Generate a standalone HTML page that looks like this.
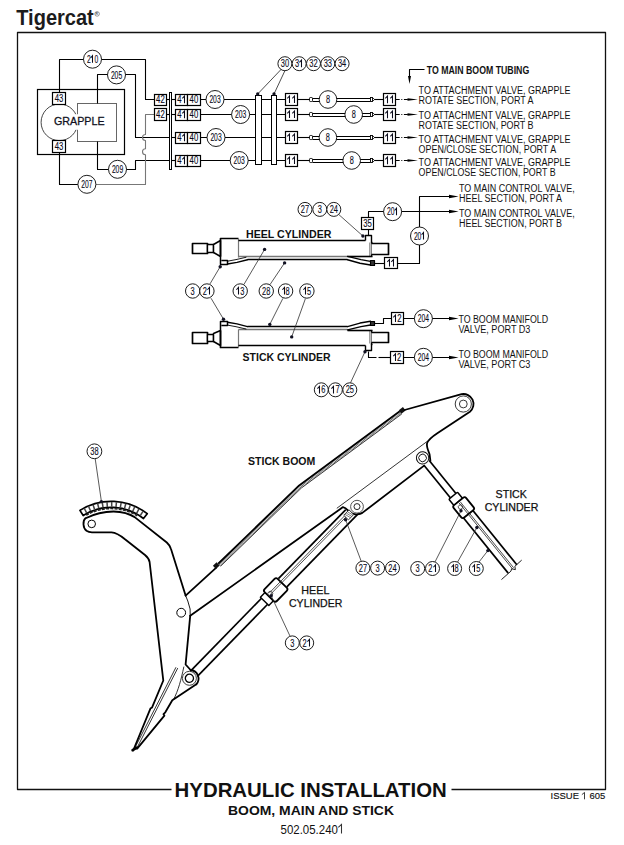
<!DOCTYPE html>
<html><head><meta charset="utf-8"><style>
html,body{margin:0;padding:0;background:#fff;}
svg{display:block;}
text{font-family:"Liberation Sans", sans-serif;}
</style></head><body>
<svg width="624" height="845" viewBox="0 0 624 845">
<rect x="0" y="0" width="624" height="845" fill="#fff"/>
<text x="16.2" y="25.1" font-size="21.5" font-weight="bold" textLength="77.6" lengthAdjust="spacingAndGlyphs" text-anchor="start" fill="#1c1c1c" >Tigercat</text>
<circle cx="97.1" cy="13.9" r="2.3" fill="none" stroke="#555" stroke-width="0.6"/>
<text x="95.6" y="15.2" font-size="3.4" font-weight="bold" text-anchor="start" fill="#555" >R</text>
<polyline points="171.5,789.5 17.5,789.5 17.5,32.5 605.5,32.5 605.5,789.5 451.5,789.5" stroke="#111" stroke-width="1.3" fill="none" stroke-linejoin="round" />
<text x="174.6" y="797.2" font-size="21" font-weight="bold" textLength="272.2" lengthAdjust="spacingAndGlyphs" text-anchor="start" fill="#111" >HYDRAULIC INSTALLATION</text>
<text x="228" y="814.7" font-size="13" font-weight="bold" textLength="166" lengthAdjust="spacingAndGlyphs" text-anchor="start" fill="#111" >BOOM, MAIN AND STICK</text>
<text x="280.5" y="833.5" font-size="13" textLength="57.42" lengthAdjust="spacingAndGlyphs" text-anchor="start" fill="#111" >502.05.240</text>
<path d="M 341.50,833.50 L 341.50,824.40 L 338.31,827.31" fill="none" stroke="#333" stroke-width="1.05" stroke-linejoin="miter" stroke-linecap="butt"/>
<text x="550.6" y="799.3" font-size="9.8" textLength="28.4" lengthAdjust="spacingAndGlyphs" text-anchor="start" fill="#111" stroke="#111" stroke-width="0.15">ISSUE</text>
<path d="M 584.50,799.30 L 584.50,792.44 L 581.87,794.64" fill="none" stroke="#333" stroke-width="0.95" stroke-linejoin="miter" stroke-linecap="butt"/>
<text x="589.5" y="799.3" font-size="9.8" textLength="15.8" lengthAdjust="spacingAndGlyphs" text-anchor="start" fill="#111" stroke="#111" stroke-width="0.15">605</text>
<rect x="37.5" y="89.5" width="87.0" height="65.0" stroke="#000" stroke-width="1.2" fill="none" rx="0" />
<circle cx="59.4" cy="122.3" r="18.3" stroke="#333" stroke-width="0.9" fill="none"/>
<rect x="77.5" y="103.5" width="39.0" height="38.0" stroke="#666" stroke-width="1.0" fill="none" rx="0" />
<rect x="70" y="114.2" width="9" height="15.6" fill="#fff"/>
<text x="54" y="125.0" font-size="11.5" textLength="50.6" lengthAdjust="spacingAndGlyphs" text-anchor="start" fill="#111122" stroke="#111122" stroke-width="0.3">GRAPPLE</text>
<rect x="52.5" y="92.5" width="13.0" height="12.0" stroke="#000" stroke-width="1.2" fill="#fff" rx="0" />
<text x="54.7" y="102.02" font-size="10.2" textLength="4.3" lengthAdjust="spacingAndGlyphs" text-anchor="start" fill="#0a0a1a" stroke="#0a0a1a" stroke-width="0.12">4</text>
<text x="59.0" y="102.02" font-size="10.2" textLength="4.3" lengthAdjust="spacingAndGlyphs" text-anchor="start" fill="#0a0a1a" stroke="#0a0a1a" stroke-width="0.12">3</text>
<rect x="52.5" y="140.5" width="13.0" height="12.0" stroke="#000" stroke-width="1.2" fill="#fff" rx="0" />
<text x="54.7" y="150.12" font-size="10.2" textLength="4.3" lengthAdjust="spacingAndGlyphs" text-anchor="start" fill="#0a0a1a" stroke="#0a0a1a" stroke-width="0.12">4</text>
<text x="59.0" y="150.12" font-size="10.2" textLength="4.3" lengthAdjust="spacingAndGlyphs" text-anchor="start" fill="#0a0a1a" stroke="#0a0a1a" stroke-width="0.12">3</text>
<polyline points="59.5,92.5 59.5,59.5 145.5,59.5 145.5,99.5 154.5,99.5" stroke="#000" stroke-width="1.1" fill="none" stroke-linejoin="round" />
<circle cx="92.5" cy="59.2" r="9" stroke="#111" stroke-width="0.95" fill="#fff"/>
<text x="86.88" y="62.82" font-size="10.2" textLength="3.75" lengthAdjust="spacingAndGlyphs" text-anchor="start" fill="#0a0a1a" stroke="#0a0a1a" stroke-width="0.12">2</text>
<path d="M 92.50,62.82 L 92.50,55.68 L 90.62,57.97" fill="none" stroke="#0a0a1a" stroke-width="1.05" stroke-linejoin="miter" stroke-linecap="butt"/>
<text x="94.38" y="62.82" font-size="10.2" textLength="3.75" lengthAdjust="spacingAndGlyphs" text-anchor="start" fill="#0a0a1a" stroke="#0a0a1a" stroke-width="0.12">0</text>
<polyline points="97.5,103.5 97.5,74.5 135.5,74.5 135.5,137.5 169.5,137.5" stroke="#000" stroke-width="1.1" fill="none" stroke-linejoin="round" />
<circle cx="116.5" cy="74.9" r="9" stroke="#111" stroke-width="0.95" fill="#fff"/>
<text x="110.88" y="78.52" font-size="10.2" textLength="3.75" lengthAdjust="spacingAndGlyphs" text-anchor="start" fill="#0a0a1a" stroke="#0a0a1a" stroke-width="0.12">2</text>
<text x="114.62" y="78.52" font-size="10.2" textLength="3.75" lengthAdjust="spacingAndGlyphs" text-anchor="start" fill="#0a0a1a" stroke="#0a0a1a" stroke-width="0.12">0</text>
<text x="118.38" y="78.52" font-size="10.2" textLength="3.75" lengthAdjust="spacingAndGlyphs" text-anchor="start" fill="#0a0a1a" stroke="#0a0a1a" stroke-width="0.12">5</text>
<polyline points="97.5,141.5 97.5,169.5 135.5,169.5 135.5,160.5 169.5,160.5" stroke="#000" stroke-width="1.1" fill="none" stroke-linejoin="round" />
<circle cx="117.5" cy="169.3" r="9" stroke="#111" stroke-width="0.95" fill="#fff"/>
<text x="111.88" y="172.92" font-size="10.2" textLength="3.75" lengthAdjust="spacingAndGlyphs" text-anchor="start" fill="#0a0a1a" stroke="#0a0a1a" stroke-width="0.12">2</text>
<text x="115.62" y="172.92" font-size="10.2" textLength="3.75" lengthAdjust="spacingAndGlyphs" text-anchor="start" fill="#0a0a1a" stroke="#0a0a1a" stroke-width="0.12">0</text>
<text x="119.38" y="172.92" font-size="10.2" textLength="3.75" lengthAdjust="spacingAndGlyphs" text-anchor="start" fill="#0a0a1a" stroke="#0a0a1a" stroke-width="0.12">9</text>
<polyline points="59.5,152.5 59.5,184.5 80.5,184.5" stroke="#000" stroke-width="1.1" fill="none" stroke-linejoin="round" />
<path d="M 95,184.5 L 145.5,184.5 L 145.5,154.7 A 3,3 0 0 1 145.5,148.7 L 145.5,140.5 A 3,3 0 0 1 145.5,134.5 L 145.5,114.5 L 154.5,114.5" stroke="#777" stroke-width="1.1" fill="none" stroke-linejoin="round" stroke-linecap="round" />
<circle cx="86.9" cy="184.3" r="9" stroke="#111" stroke-width="0.95" fill="#fff"/>
<text x="81.28" y="187.92" font-size="10.2" textLength="3.75" lengthAdjust="spacingAndGlyphs" text-anchor="start" fill="#0a0a1a" stroke="#0a0a1a" stroke-width="0.12">2</text>
<text x="85.03" y="187.92" font-size="10.2" textLength="3.75" lengthAdjust="spacingAndGlyphs" text-anchor="start" fill="#0a0a1a" stroke="#0a0a1a" stroke-width="0.12">0</text>
<text x="88.78" y="187.92" font-size="10.2" textLength="3.75" lengthAdjust="spacingAndGlyphs" text-anchor="start" fill="#0a0a1a" stroke="#0a0a1a" stroke-width="0.12">7</text>
<rect x="154.5" y="94.5" width="12.0" height="11.0" stroke="#000" stroke-width="1.2" fill="#fff" rx="0" />
<text x="156.1" y="103.37" font-size="10.2" textLength="4.3" lengthAdjust="spacingAndGlyphs" text-anchor="start" fill="#0a0a1a" stroke="#0a0a1a" stroke-width="0.12">4</text>
<text x="160.4" y="103.37" font-size="10.2" textLength="4.3" lengthAdjust="spacingAndGlyphs" text-anchor="start" fill="#0a0a1a" stroke="#0a0a1a" stroke-width="0.12">2</text>
<rect x="154.5" y="108.5" width="12.0" height="12.0" stroke="#000" stroke-width="1.2" fill="#fff" rx="0" />
<text x="156.1" y="118.07" font-size="10.2" textLength="4.3" lengthAdjust="spacingAndGlyphs" text-anchor="start" fill="#0a0a1a" stroke="#0a0a1a" stroke-width="0.12">4</text>
<text x="160.4" y="118.07" font-size="10.2" textLength="4.3" lengthAdjust="spacingAndGlyphs" text-anchor="start" fill="#0a0a1a" stroke="#0a0a1a" stroke-width="0.12">2</text>
<rect x="169.5" y="92.5" width="2.0" height="77.0" stroke="#000" stroke-width="1.0" fill="#fff" rx="0" />
<line x1="166.4" y1="99.5" x2="169.1" y2="99.5" stroke="#000" stroke-width="1.1" />
<line x1="171.7" y1="99.5" x2="175.5" y2="99.5" stroke="#000" stroke-width="1.1" />
<line x1="166.4" y1="114.5" x2="169.1" y2="114.5" stroke="#000" stroke-width="1.1" />
<line x1="171.7" y1="114.5" x2="175.5" y2="114.5" stroke="#000" stroke-width="1.1" />
<line x1="171.7" y1="137.5" x2="175.5" y2="137.5" stroke="#000" stroke-width="1.1" />
<line x1="171.7" y1="160.5" x2="175.5" y2="160.5" stroke="#000" stroke-width="1.1" />
<rect x="175.5" y="94.5" width="12.0" height="11.0" stroke="#000" stroke-width="1.2" fill="#fff" rx="0" />
<text x="177.2" y="103.17" font-size="10.2" textLength="4.3" lengthAdjust="spacingAndGlyphs" text-anchor="start" fill="#0a0a1a" stroke="#0a0a1a" stroke-width="0.12">4</text>
<path d="M 184.50,103.17 L 184.50,96.03 L 182.35,98.32" fill="none" stroke="#0a0a1a" stroke-width="1.05" stroke-linejoin="miter" stroke-linecap="butt"/>
<rect x="187.5" y="94.5" width="13.0" height="11.0" stroke="#000" stroke-width="1.2" fill="#fff" rx="0" />
<text x="189.6" y="103.17" font-size="10.2" textLength="4.3" lengthAdjust="spacingAndGlyphs" text-anchor="start" fill="#0a0a1a" stroke="#0a0a1a" stroke-width="0.12">4</text>
<text x="193.9" y="103.17" font-size="10.2" textLength="4.3" lengthAdjust="spacingAndGlyphs" text-anchor="start" fill="#0a0a1a" stroke="#0a0a1a" stroke-width="0.12">0</text>
<rect x="175.5" y="109.5" width="12.0" height="11.0" stroke="#000" stroke-width="1.2" fill="#fff" rx="0" />
<text x="177.2" y="118.17" font-size="10.2" textLength="4.3" lengthAdjust="spacingAndGlyphs" text-anchor="start" fill="#0a0a1a" stroke="#0a0a1a" stroke-width="0.12">4</text>
<path d="M 184.50,118.17 L 184.50,111.03 L 182.35,113.32" fill="none" stroke="#0a0a1a" stroke-width="1.05" stroke-linejoin="miter" stroke-linecap="butt"/>
<rect x="187.5" y="109.5" width="13.0" height="11.0" stroke="#000" stroke-width="1.2" fill="#fff" rx="0" />
<text x="189.6" y="118.17" font-size="10.2" textLength="4.3" lengthAdjust="spacingAndGlyphs" text-anchor="start" fill="#0a0a1a" stroke="#0a0a1a" stroke-width="0.12">4</text>
<text x="193.9" y="118.17" font-size="10.2" textLength="4.3" lengthAdjust="spacingAndGlyphs" text-anchor="start" fill="#0a0a1a" stroke="#0a0a1a" stroke-width="0.12">0</text>
<rect x="175.5" y="132.5" width="12.0" height="11.0" stroke="#000" stroke-width="1.2" fill="#fff" rx="0" />
<text x="177.2" y="141.17" font-size="10.2" textLength="4.3" lengthAdjust="spacingAndGlyphs" text-anchor="start" fill="#0a0a1a" stroke="#0a0a1a" stroke-width="0.12">4</text>
<path d="M 184.50,141.17 L 184.50,134.03 L 182.35,136.32" fill="none" stroke="#0a0a1a" stroke-width="1.05" stroke-linejoin="miter" stroke-linecap="butt"/>
<rect x="187.5" y="132.5" width="13.0" height="11.0" stroke="#000" stroke-width="1.2" fill="#fff" rx="0" />
<text x="189.6" y="141.17" font-size="10.2" textLength="4.3" lengthAdjust="spacingAndGlyphs" text-anchor="start" fill="#0a0a1a" stroke="#0a0a1a" stroke-width="0.12">4</text>
<text x="193.9" y="141.17" font-size="10.2" textLength="4.3" lengthAdjust="spacingAndGlyphs" text-anchor="start" fill="#0a0a1a" stroke="#0a0a1a" stroke-width="0.12">0</text>
<rect x="175.5" y="155.5" width="12.0" height="11.0" stroke="#000" stroke-width="1.2" fill="#fff" rx="0" />
<text x="177.2" y="164.17" font-size="10.2" textLength="4.3" lengthAdjust="spacingAndGlyphs" text-anchor="start" fill="#0a0a1a" stroke="#0a0a1a" stroke-width="0.12">4</text>
<path d="M 184.50,164.17 L 184.50,157.03 L 182.35,159.32" fill="none" stroke="#0a0a1a" stroke-width="1.05" stroke-linejoin="miter" stroke-linecap="butt"/>
<rect x="187.5" y="155.5" width="13.0" height="11.0" stroke="#000" stroke-width="1.2" fill="#fff" rx="0" />
<text x="189.6" y="164.17" font-size="10.2" textLength="4.3" lengthAdjust="spacingAndGlyphs" text-anchor="start" fill="#0a0a1a" stroke="#0a0a1a" stroke-width="0.12">4</text>
<text x="193.9" y="164.17" font-size="10.2" textLength="4.3" lengthAdjust="spacingAndGlyphs" text-anchor="start" fill="#0a0a1a" stroke="#0a0a1a" stroke-width="0.12">0</text>
<line x1="200.3" y1="99.5" x2="285.6" y2="99.5" stroke="#000" stroke-width="1.1" />
<line x1="200.3" y1="114.5" x2="285.6" y2="114.5" stroke="#000" stroke-width="1.1" />
<line x1="200.3" y1="137.5" x2="285.6" y2="137.5" stroke="#000" stroke-width="1.1" />
<line x1="200.3" y1="160.5" x2="285.6" y2="160.5" stroke="#000" stroke-width="1.1" />
<circle cx="215" cy="99.5" r="9" stroke="#111" stroke-width="0.95" fill="#fff"/>
<text x="209.38" y="103.12" font-size="10.2" textLength="3.75" lengthAdjust="spacingAndGlyphs" text-anchor="start" fill="#0a0a1a" stroke="#0a0a1a" stroke-width="0.12">2</text>
<text x="213.12" y="103.12" font-size="10.2" textLength="3.75" lengthAdjust="spacingAndGlyphs" text-anchor="start" fill="#0a0a1a" stroke="#0a0a1a" stroke-width="0.12">0</text>
<text x="216.88" y="103.12" font-size="10.2" textLength="3.75" lengthAdjust="spacingAndGlyphs" text-anchor="start" fill="#0a0a1a" stroke="#0a0a1a" stroke-width="0.12">3</text>
<circle cx="240.6" cy="114.5" r="9" stroke="#111" stroke-width="0.95" fill="#fff"/>
<text x="234.97" y="118.12" font-size="10.2" textLength="3.75" lengthAdjust="spacingAndGlyphs" text-anchor="start" fill="#0a0a1a" stroke="#0a0a1a" stroke-width="0.12">2</text>
<text x="238.72" y="118.12" font-size="10.2" textLength="3.75" lengthAdjust="spacingAndGlyphs" text-anchor="start" fill="#0a0a1a" stroke="#0a0a1a" stroke-width="0.12">0</text>
<text x="242.47" y="118.12" font-size="10.2" textLength="3.75" lengthAdjust="spacingAndGlyphs" text-anchor="start" fill="#0a0a1a" stroke="#0a0a1a" stroke-width="0.12">3</text>
<circle cx="216" cy="137.5" r="9" stroke="#111" stroke-width="0.95" fill="#fff"/>
<text x="210.38" y="141.12" font-size="10.2" textLength="3.75" lengthAdjust="spacingAndGlyphs" text-anchor="start" fill="#0a0a1a" stroke="#0a0a1a" stroke-width="0.12">2</text>
<text x="214.12" y="141.12" font-size="10.2" textLength="3.75" lengthAdjust="spacingAndGlyphs" text-anchor="start" fill="#0a0a1a" stroke="#0a0a1a" stroke-width="0.12">0</text>
<text x="217.88" y="141.12" font-size="10.2" textLength="3.75" lengthAdjust="spacingAndGlyphs" text-anchor="start" fill="#0a0a1a" stroke="#0a0a1a" stroke-width="0.12">3</text>
<circle cx="239.2" cy="160.5" r="9" stroke="#111" stroke-width="0.95" fill="#fff"/>
<text x="233.57" y="164.12" font-size="10.2" textLength="3.75" lengthAdjust="spacingAndGlyphs" text-anchor="start" fill="#0a0a1a" stroke="#0a0a1a" stroke-width="0.12">2</text>
<text x="237.32" y="164.12" font-size="10.2" textLength="3.75" lengthAdjust="spacingAndGlyphs" text-anchor="start" fill="#0a0a1a" stroke="#0a0a1a" stroke-width="0.12">0</text>
<text x="241.07" y="164.12" font-size="10.2" textLength="3.75" lengthAdjust="spacingAndGlyphs" text-anchor="start" fill="#0a0a1a" stroke="#0a0a1a" stroke-width="0.12">3</text>
<rect x="255.5" y="95.5" width="6.0" height="69.0" stroke="#000" stroke-width="1.0" fill="#fff" rx="0" />
<rect x="271.5" y="95.5" width="5.0" height="69.0" stroke="#000" stroke-width="1.0" fill="#fff" rx="0" />
<circle cx="257.7" cy="94.0" r="1.7" fill="#112"/>
<circle cx="274" cy="94.0" r="1.7" fill="#112"/>
<line x1="281.0" y1="69.5" x2="257.7" y2="94.0" stroke="#000" stroke-width="0.7" />
<line x1="285.0" y1="70.5" x2="274.0" y2="94.0" stroke="#000" stroke-width="0.7" />
<circle cx="284.9" cy="63.7" r="7" stroke="#111" stroke-width="0.95" fill="#fff"/>
<text x="280.75" y="67.32" font-size="10.2" textLength="4.15" lengthAdjust="spacingAndGlyphs" text-anchor="start" fill="#0a0a1a" stroke="#0a0a1a" stroke-width="0.12">3</text>
<text x="284.9" y="67.32" font-size="10.2" textLength="4.15" lengthAdjust="spacingAndGlyphs" text-anchor="start" fill="#0a0a1a" stroke="#0a0a1a" stroke-width="0.12">0</text>
<circle cx="299.2" cy="63.7" r="7" stroke="#111" stroke-width="0.95" fill="#fff"/>
<text x="295.05" y="67.32" font-size="10.2" textLength="4.15" lengthAdjust="spacingAndGlyphs" text-anchor="start" fill="#0a0a1a" stroke="#0a0a1a" stroke-width="0.12">3</text>
<path d="M 301.50,67.32 L 301.50,60.18 L 299.43,62.47" fill="none" stroke="#0a0a1a" stroke-width="1.05" stroke-linejoin="miter" stroke-linecap="butt"/>
<circle cx="313.5" cy="63.7" r="7" stroke="#111" stroke-width="0.95" fill="#fff"/>
<text x="309.35" y="67.32" font-size="10.2" textLength="4.15" lengthAdjust="spacingAndGlyphs" text-anchor="start" fill="#0a0a1a" stroke="#0a0a1a" stroke-width="0.12">3</text>
<text x="313.5" y="67.32" font-size="10.2" textLength="4.15" lengthAdjust="spacingAndGlyphs" text-anchor="start" fill="#0a0a1a" stroke="#0a0a1a" stroke-width="0.12">2</text>
<circle cx="327.8" cy="63.7" r="7" stroke="#111" stroke-width="0.95" fill="#fff"/>
<text x="323.65" y="67.32" font-size="10.2" textLength="4.15" lengthAdjust="spacingAndGlyphs" text-anchor="start" fill="#0a0a1a" stroke="#0a0a1a" stroke-width="0.12">3</text>
<text x="327.8" y="67.32" font-size="10.2" textLength="4.15" lengthAdjust="spacingAndGlyphs" text-anchor="start" fill="#0a0a1a" stroke="#0a0a1a" stroke-width="0.12">3</text>
<circle cx="342.1" cy="63.7" r="7" stroke="#111" stroke-width="0.95" fill="#fff"/>
<text x="337.95" y="67.32" font-size="10.2" textLength="4.15" lengthAdjust="spacingAndGlyphs" text-anchor="start" fill="#0a0a1a" stroke="#0a0a1a" stroke-width="0.12">3</text>
<text x="342.1" y="67.32" font-size="10.2" textLength="4.15" lengthAdjust="spacingAndGlyphs" text-anchor="start" fill="#0a0a1a" stroke="#0a0a1a" stroke-width="0.12">4</text>
<rect x="285.5" y="93.5" width="12.0" height="12.0" stroke="#000" stroke-width="1.2" fill="#fff" rx="0" />
<path d="M 289.50,103.12 L 289.50,95.98 L 287.35,98.27" fill="none" stroke="#0a0a1a" stroke-width="1.05" stroke-linejoin="miter" stroke-linecap="butt"/>
<path d="M 294.50,103.12 L 294.50,95.98 L 292.35,98.27" fill="none" stroke="#0a0a1a" stroke-width="1.05" stroke-linejoin="miter" stroke-linecap="butt"/>
<line x1="297.4" y1="99.5" x2="309.7" y2="99.5" stroke="#000" stroke-width="1.1" />
<rect x="285.5" y="108.5" width="12.0" height="12.0" stroke="#000" stroke-width="1.2" fill="#fff" rx="0" />
<path d="M 289.50,118.12 L 289.50,110.98 L 287.35,113.27" fill="none" stroke="#0a0a1a" stroke-width="1.05" stroke-linejoin="miter" stroke-linecap="butt"/>
<path d="M 294.50,118.12 L 294.50,110.98 L 292.35,113.27" fill="none" stroke="#0a0a1a" stroke-width="1.05" stroke-linejoin="miter" stroke-linecap="butt"/>
<line x1="297.4" y1="114.5" x2="309.7" y2="114.5" stroke="#000" stroke-width="1.1" />
<rect x="285.5" y="131.5" width="12.0" height="12.0" stroke="#000" stroke-width="1.2" fill="#fff" rx="0" />
<path d="M 289.50,141.12 L 289.50,133.98 L 287.35,136.27" fill="none" stroke="#0a0a1a" stroke-width="1.05" stroke-linejoin="miter" stroke-linecap="butt"/>
<path d="M 294.50,141.12 L 294.50,133.98 L 292.35,136.27" fill="none" stroke="#0a0a1a" stroke-width="1.05" stroke-linejoin="miter" stroke-linecap="butt"/>
<line x1="297.4" y1="137.5" x2="309.7" y2="137.5" stroke="#000" stroke-width="1.1" />
<rect x="285.5" y="154.5" width="12.0" height="12.0" stroke="#000" stroke-width="1.2" fill="#fff" rx="0" />
<path d="M 289.50,164.12 L 289.50,156.98 L 287.35,159.27" fill="none" stroke="#0a0a1a" stroke-width="1.05" stroke-linejoin="miter" stroke-linecap="butt"/>
<path d="M 294.50,164.12 L 294.50,156.98 L 292.35,159.27" fill="none" stroke="#0a0a1a" stroke-width="1.05" stroke-linejoin="miter" stroke-linecap="butt"/>
<line x1="297.4" y1="160.5" x2="309.7" y2="160.5" stroke="#000" stroke-width="1.1" />
<rect x="309.5" y="97.5" width="3.0" height="4.0" stroke="#000" stroke-width="0.9" fill="#fff" rx="0.8" />
<line x1="312.5" y1="98.5" x2="370" y2="98.5" stroke="#000" stroke-width="1.1" />
<line x1="312.5" y1="101.5" x2="370" y2="101.5" stroke="#000" stroke-width="1.1" />
<rect x="370.5" y="97.5" width="2.0" height="4.0" stroke="#000" stroke-width="0.9" fill="#fff" rx="0" />
<polyline points="372.5,97.5 374.5,99.5 372.5,101.5" stroke="#000" stroke-width="0.8" fill="none" stroke-linejoin="round" />
<line x1="374.2" y1="99.5" x2="383.5" y2="99.5" stroke="#000" stroke-width="1.1" />
<circle cx="328" cy="99.5" r="8.8" stroke="#111" stroke-width="0.95" fill="#fff"/>
<text x="325.95" y="103.05" font-size="10" textLength="4.1" lengthAdjust="spacingAndGlyphs" text-anchor="start" fill="#0a0a1a" stroke="#0a0a1a" stroke-width="0.12">8</text>
<rect x="309.5" y="112.5" width="3.0" height="4.0" stroke="#000" stroke-width="0.9" fill="#fff" rx="0.8" />
<line x1="312.5" y1="113.5" x2="370" y2="113.5" stroke="#000" stroke-width="1.1" />
<line x1="312.5" y1="116.5" x2="370" y2="116.5" stroke="#000" stroke-width="1.1" />
<rect x="370.5" y="112.5" width="2.0" height="4.0" stroke="#000" stroke-width="0.9" fill="#fff" rx="0" />
<polyline points="372.5,112.5 374.5,114.5 372.5,116.5" stroke="#000" stroke-width="0.8" fill="none" stroke-linejoin="round" />
<line x1="374.2" y1="114.5" x2="383.5" y2="114.5" stroke="#000" stroke-width="1.1" />
<circle cx="353.7" cy="114.5" r="8.8" stroke="#111" stroke-width="0.95" fill="#fff"/>
<text x="351.65" y="118.05" font-size="10" textLength="4.1" lengthAdjust="spacingAndGlyphs" text-anchor="start" fill="#0a0a1a" stroke="#0a0a1a" stroke-width="0.12">8</text>
<rect x="309.5" y="135.5" width="3.0" height="4.0" stroke="#000" stroke-width="0.9" fill="#fff" rx="0.8" />
<line x1="312.5" y1="136.5" x2="370" y2="136.5" stroke="#000" stroke-width="1.1" />
<line x1="312.5" y1="139.5" x2="370" y2="139.5" stroke="#000" stroke-width="1.1" />
<rect x="370.5" y="135.5" width="2.0" height="4.0" stroke="#000" stroke-width="0.9" fill="#fff" rx="0" />
<polyline points="372.5,135.5 374.5,137.5 372.5,139.5" stroke="#000" stroke-width="0.8" fill="none" stroke-linejoin="round" />
<line x1="374.2" y1="137.5" x2="383.5" y2="137.5" stroke="#000" stroke-width="1.1" />
<circle cx="327.9" cy="137.5" r="8.8" stroke="#111" stroke-width="0.95" fill="#fff"/>
<text x="325.85" y="141.05" font-size="10" textLength="4.1" lengthAdjust="spacingAndGlyphs" text-anchor="start" fill="#0a0a1a" stroke="#0a0a1a" stroke-width="0.12">8</text>
<rect x="309.5" y="158.5" width="3.0" height="4.0" stroke="#000" stroke-width="0.9" fill="#fff" rx="0.8" />
<line x1="312.5" y1="159.5" x2="370" y2="159.5" stroke="#000" stroke-width="1.1" />
<line x1="312.5" y1="162.5" x2="370" y2="162.5" stroke="#000" stroke-width="1.1" />
<rect x="370.5" y="158.5" width="2.0" height="4.0" stroke="#000" stroke-width="0.9" fill="#fff" rx="0" />
<polyline points="372.5,158.5 374.5,160.5 372.5,162.5" stroke="#000" stroke-width="0.8" fill="none" stroke-linejoin="round" />
<line x1="374.2" y1="160.5" x2="383.5" y2="160.5" stroke="#000" stroke-width="1.1" />
<circle cx="351.7" cy="160.5" r="8.8" stroke="#111" stroke-width="0.95" fill="#fff"/>
<text x="349.65" y="164.05" font-size="10" textLength="4.1" lengthAdjust="spacingAndGlyphs" text-anchor="start" fill="#0a0a1a" stroke="#0a0a1a" stroke-width="0.12">8</text>
<rect x="383.5" y="93.5" width="12.0" height="12.0" stroke="#000" stroke-width="1.2" fill="#fff" rx="0" />
<path d="M 387.50,103.22 L 387.50,96.08 L 385.35,98.37" fill="none" stroke="#0a0a1a" stroke-width="1.05" stroke-linejoin="miter" stroke-linecap="butt"/>
<path d="M 392.50,103.22 L 392.50,96.08 L 390.35,98.37" fill="none" stroke="#0a0a1a" stroke-width="1.05" stroke-linejoin="miter" stroke-linecap="butt"/>
<line x1="395.7" y1="99.5" x2="407.9" y2="99.5" stroke="#000" stroke-width="1.0" stroke-dasharray="4,1.6,1,1.6"/>
<polygon points="407.5,98.2 418,99.5 407.5,100.8" fill="#000"/>
<rect x="383.5" y="108.5" width="12.0" height="12.0" stroke="#000" stroke-width="1.2" fill="#fff" rx="0" />
<path d="M 387.50,118.22 L 387.50,111.08 L 385.35,113.37" fill="none" stroke="#0a0a1a" stroke-width="1.05" stroke-linejoin="miter" stroke-linecap="butt"/>
<path d="M 392.50,118.22 L 392.50,111.08 L 390.35,113.37" fill="none" stroke="#0a0a1a" stroke-width="1.05" stroke-linejoin="miter" stroke-linecap="butt"/>
<line x1="395.7" y1="114.5" x2="407.9" y2="114.5" stroke="#000" stroke-width="1.0" stroke-dasharray="4,1.6,1,1.6"/>
<polygon points="407.5,113.2 418,114.5 407.5,115.8" fill="#000"/>
<rect x="383.5" y="131.5" width="12.0" height="12.0" stroke="#000" stroke-width="1.2" fill="#fff" rx="0" />
<path d="M 387.50,141.22 L 387.50,134.08 L 385.35,136.37" fill="none" stroke="#0a0a1a" stroke-width="1.05" stroke-linejoin="miter" stroke-linecap="butt"/>
<path d="M 392.50,141.22 L 392.50,134.08 L 390.35,136.37" fill="none" stroke="#0a0a1a" stroke-width="1.05" stroke-linejoin="miter" stroke-linecap="butt"/>
<line x1="395.7" y1="137.5" x2="407.9" y2="137.5" stroke="#000" stroke-width="1.0" stroke-dasharray="4,1.6,1,1.6"/>
<polygon points="407.5,136.2 418,137.5 407.5,138.8" fill="#000"/>
<rect x="383.5" y="154.5" width="12.0" height="12.0" stroke="#000" stroke-width="1.2" fill="#fff" rx="0" />
<path d="M 387.50,164.22 L 387.50,157.08 L 385.35,159.37" fill="none" stroke="#0a0a1a" stroke-width="1.05" stroke-linejoin="miter" stroke-linecap="butt"/>
<path d="M 392.50,164.22 L 392.50,157.08 L 390.35,159.37" fill="none" stroke="#0a0a1a" stroke-width="1.05" stroke-linejoin="miter" stroke-linecap="butt"/>
<line x1="395.7" y1="160.5" x2="407.9" y2="160.5" stroke="#000" stroke-width="1.0" stroke-dasharray="4,1.6,1,1.6"/>
<polygon points="407.5,159.2 418,160.5 407.5,161.8" fill="#000"/>
<polyline points="424.5,69.5 409.5,69.5 409.5,77.5" stroke="#000" stroke-width="1.1" fill="none" stroke-linejoin="round" />
<polygon points="408.0,76.0 409.5,84 411.0,76.0" fill="#000"/>
<text x="426.8" y="73.8" font-size="10.3" font-weight="bold" textLength="102.4" lengthAdjust="spacingAndGlyphs" text-anchor="start" fill="#111" >TO MAIN BOOM TUBING</text>
<text x="418.6" y="93.5" font-size="10" textLength="151.8" lengthAdjust="spacingAndGlyphs" text-anchor="start" fill="#111" >TO ATTACHMENT VALVE, GRAPPLE</text>
<text x="418.6" y="103.8" font-size="10" textLength="115" lengthAdjust="spacingAndGlyphs" text-anchor="start" fill="#111" >ROTATE SECTION, PORT A</text>
<text x="418.6" y="118.8" font-size="10" textLength="151.8" lengthAdjust="spacingAndGlyphs" text-anchor="start" fill="#111" >TO ATTACHMENT VALVE, GRAPPLE</text>
<text x="418.6" y="128.9" font-size="10" textLength="115" lengthAdjust="spacingAndGlyphs" text-anchor="start" fill="#111" >ROTATE SECTION, PORT B</text>
<text x="418.6" y="142.5" font-size="10" textLength="151.8" lengthAdjust="spacingAndGlyphs" text-anchor="start" fill="#111" >TO ATTACHMENT VALVE, GRAPPLE</text>
<text x="418.6" y="152.7" font-size="10" textLength="137.5" lengthAdjust="spacingAndGlyphs" text-anchor="start" fill="#111" >OPEN/CLOSE SECTION, PORT A</text>
<text x="418.6" y="165.7" font-size="10" textLength="151.8" lengthAdjust="spacingAndGlyphs" text-anchor="start" fill="#111" >TO ATTACHMENT VALVE, GRAPPLE</text>
<text x="418.6" y="175.9" font-size="10" textLength="137" lengthAdjust="spacingAndGlyphs" text-anchor="start" fill="#111" >OPEN/CLOSE SECTION, PORT B</text>
<polygon points="192.5,243.5 207.5,243.5 207.5,253.5 192.5,253.5" stroke="#000" stroke-width="1.7" fill="#fff" stroke-linejoin="round" />
<polygon points="207.5,244.5 213.5,244.5 213.5,252.5 207.5,252.5" stroke="#000" stroke-width="1.3" fill="#fff" stroke-linejoin="round" />
<polygon points="213.5,244.5 220.5,240.5 220.5,256.5 213.5,252.5" stroke="#000" stroke-width="1.5" fill="#fff" stroke-linejoin="round" />
<polyline points="220.5,256.5 220.5,238.5 238.5,238.5" stroke="#000" stroke-width="1.7" fill="none" stroke-linejoin="round" />
<polyline points="238.5,238.5 238.5,257.5" stroke="#777" stroke-width="1.2" fill="none" stroke-linejoin="round" />
<polyline points="238.5,240.5 365.5,240.5" stroke="#000" stroke-width="1.7" fill="none" stroke-linejoin="round" />
<polyline points="365.5,240.5 365.5,235.5 371.5,235.5 371.5,242.5 372.5,242.5" stroke="#000" stroke-width="1.4" fill="none" stroke-linejoin="round" />
<polyline points="371.5,242.5 371.5,256.5" stroke="#000" stroke-width="1.5" fill="none" stroke-linejoin="round" />
<polyline points="369.5,242.5 369.5,256.5" stroke="#888" stroke-width="0.8" fill="none" stroke-linejoin="round" />
<polyline points="371.5,243.5 388.5,243.5 388.5,254.5 371.5,254.5" stroke="#000" stroke-width="1.7" fill="#fff" stroke-linejoin="round" />
<polyline points="238.5,256.5 347.5,256.5" stroke="#777" stroke-width="1.5" fill="none" stroke-linejoin="round" />
<polyline points="347.5,256.5 372.5,256.5" stroke="#000" stroke-width="1.6" fill="none" stroke-linejoin="round" />
<polyline points="247.5,259.5 347.5,259.5" stroke="#000" stroke-width="1.7" fill="none" stroke-linejoin="round" />
<path d="M 227.5,261.2 L 236,259.6 L 246,257.3" stroke="#000" stroke-width="0.9" fill="none" stroke-linejoin="round" stroke-linecap="round" />
<path d="M 227.5,264.0 L 237,262.4 L 247.5,259.7" stroke="#000" stroke-width="1.4" fill="none" stroke-linejoin="round" stroke-linecap="round" />
<polyline points="220.5,256.5 220.5,264.5 227.5,264.5 227.5,260.5 221.5,260.5" stroke="#000" stroke-width="1.5" fill="#fff" stroke-linejoin="round" />
<path d="M 347.5,256.4 L 361,259.6 L 370.5,261.3" stroke="#000" stroke-width="1.3" fill="none" stroke-linejoin="round" stroke-linecap="round" />
<path d="M 347.5,259.7 L 360,263.2 L 370.5,265.0" stroke="#000" stroke-width="1.5" fill="none" stroke-linejoin="round" stroke-linecap="round" />
<polygon points="370.5,260.5 374.5,260.5 374.5,265.5 370.5,265.5" stroke="#000" stroke-width="1.2" fill="#333" stroke-linejoin="round" />
<polygon points="192.5,343.5 207.5,343.5 207.5,332.5 192.5,332.5" stroke="#000" stroke-width="1.7" fill="#fff" stroke-linejoin="round" />
<polygon points="207.5,341.5 213.5,341.5 213.5,334.5 207.5,334.5" stroke="#000" stroke-width="1.3" fill="#fff" stroke-linejoin="round" />
<polygon points="213.5,341.5 220.5,345.5 220.5,330.5 213.5,333.5" stroke="#000" stroke-width="1.5" fill="#fff" stroke-linejoin="round" />
<polyline points="220.5,330.5 220.5,347.5 238.5,347.5" stroke="#000" stroke-width="1.7" fill="none" stroke-linejoin="round" />
<polyline points="238.5,347.5 238.5,329.5" stroke="#777" stroke-width="1.2" fill="none" stroke-linejoin="round" />
<polyline points="238.5,345.5 365.5,345.5" stroke="#000" stroke-width="1.7" fill="none" stroke-linejoin="round" />
<polyline points="365.5,345.5 365.5,350.5 371.5,350.5 371.5,344.5 372.5,344.5" stroke="#000" stroke-width="1.4" fill="none" stroke-linejoin="round" />
<polyline points="371.5,344.5 371.5,330.5" stroke="#000" stroke-width="1.5" fill="none" stroke-linejoin="round" />
<polyline points="369.5,343.5 369.5,330.5" stroke="#888" stroke-width="0.8" fill="none" stroke-linejoin="round" />
<polyline points="371.5,342.5 388.5,342.5 388.5,332.5 371.5,332.5" stroke="#000" stroke-width="1.7" fill="#fff" stroke-linejoin="round" />
<polyline points="238.5,329.5 347.5,329.5" stroke="#777" stroke-width="1.5" fill="none" stroke-linejoin="round" />
<polyline points="347.5,330.5 372.5,330.5" stroke="#000" stroke-width="1.6" fill="none" stroke-linejoin="round" />
<polyline points="247.5,326.5 347.5,326.5" stroke="#000" stroke-width="1.7" fill="none" stroke-linejoin="round" />
<path d="M 227.5,325.1 L 236,326.7 L 246,329.0" stroke="#000" stroke-width="0.9" fill="none" stroke-linejoin="round" stroke-linecap="round" />
<path d="M 227.5,322.3 L 237,323.9 L 247.5,326.6" stroke="#000" stroke-width="1.4" fill="none" stroke-linejoin="round" stroke-linecap="round" />
<polyline points="220.5,330.5 220.5,321.5 227.5,321.5 227.5,325.5 221.5,325.5" stroke="#000" stroke-width="1.5" fill="#fff" stroke-linejoin="round" />
<path d="M 347.5,329.9 L 361,326.7 L 370.5,325.0" stroke="#000" stroke-width="1.3" fill="none" stroke-linejoin="round" stroke-linecap="round" />
<path d="M 347.5,326.6 L 360,323.1 L 370.5,321.3" stroke="#000" stroke-width="1.5" fill="none" stroke-linejoin="round" stroke-linecap="round" />
<polygon points="370.5,325.5 374.5,325.5 374.5,321.5 370.5,321.5" stroke="#000" stroke-width="1.2" fill="#333" stroke-linejoin="round" />
<line x1="374.4" y1="263.5" x2="384.5" y2="263.5" stroke="#000" stroke-width="1.1" />
<rect x="384.5" y="257.5" width="13.0" height="11.0" stroke="#000" stroke-width="1.2" fill="#fff" rx="0" />
<path d="M 389.50,266.62 L 389.50,259.48 L 387.35,261.77" fill="none" stroke="#0a0a1a" stroke-width="1.05" stroke-linejoin="miter" stroke-linecap="butt"/>
<path d="M 393.50,266.62 L 393.50,259.48 L 391.35,261.77" fill="none" stroke="#0a0a1a" stroke-width="1.05" stroke-linejoin="miter" stroke-linecap="butt"/>
<polyline points="397.5,263.5 419.5,263.5 419.5,196.5 452.5,196.5" stroke="#000" stroke-width="1.1" fill="none" stroke-linejoin="round" />
<polygon points="449.0,194.8 458.6,196.5 449.0,198.2" fill="#000"/>
<polyline points="368.5,235.5 368.5,229.5" stroke="#000" stroke-width="1.1" fill="none" stroke-linejoin="round" />
<rect x="361.5" y="217.5" width="12.0" height="12.0" stroke="#000" stroke-width="1.2" fill="#fff" rx="0" />
<text x="363.3" y="227.07" font-size="10.2" textLength="4.3" lengthAdjust="spacingAndGlyphs" text-anchor="start" fill="#0a0a1a" stroke="#0a0a1a" stroke-width="0.12">3</text>
<text x="367.6" y="227.07" font-size="10.2" textLength="4.3" lengthAdjust="spacingAndGlyphs" text-anchor="start" fill="#0a0a1a" stroke="#0a0a1a" stroke-width="0.12">5</text>
<polyline points="368.5,217.5 368.5,211.5 452.5,211.5" stroke="#000" stroke-width="1.1" fill="none" stroke-linejoin="round" />
<polygon points="449.0,209.8 458.6,211.5 449.0,213.2" fill="#000"/>
<circle cx="392.6" cy="211.7" r="9" stroke="#111" stroke-width="0.95" fill="#fff"/>
<text x="386.98" y="215.32" font-size="10.2" textLength="3.75" lengthAdjust="spacingAndGlyphs" text-anchor="start" fill="#0a0a1a" stroke="#0a0a1a" stroke-width="0.12">2</text>
<text x="390.73" y="215.32" font-size="10.2" textLength="3.75" lengthAdjust="spacingAndGlyphs" text-anchor="start" fill="#0a0a1a" stroke="#0a0a1a" stroke-width="0.12">0</text>
<path d="M 396.50,215.32 L 396.50,208.18 L 394.62,210.47" fill="none" stroke="#0a0a1a" stroke-width="1.05" stroke-linejoin="miter" stroke-linecap="butt"/>
<circle cx="419.5" cy="236.0" r="9" stroke="#111" stroke-width="0.95" fill="#fff"/>
<text x="413.88" y="239.62" font-size="10.2" textLength="3.75" lengthAdjust="spacingAndGlyphs" text-anchor="start" fill="#0a0a1a" stroke="#0a0a1a" stroke-width="0.12">2</text>
<text x="417.62" y="239.62" font-size="10.2" textLength="3.75" lengthAdjust="spacingAndGlyphs" text-anchor="start" fill="#0a0a1a" stroke="#0a0a1a" stroke-width="0.12">0</text>
<path d="M 423.50,239.62 L 423.50,232.48 L 421.62,234.77" fill="none" stroke="#0a0a1a" stroke-width="1.05" stroke-linejoin="miter" stroke-linecap="butt"/>
<text x="246.0" y="237.7" font-size="10.2" font-weight="bold" textLength="85.4" lengthAdjust="spacingAndGlyphs" text-anchor="start" fill="#111" >HEEL CYLINDER</text>
<text x="459.0" y="192.0" font-size="10" textLength="115.7" lengthAdjust="spacingAndGlyphs" text-anchor="start" fill="#111" >TO MAIN CONTROL VALVE,</text>
<text x="459.0" y="201.9" font-size="10" textLength="103" lengthAdjust="spacingAndGlyphs" text-anchor="start" fill="#111" >HEEL SECTION, PORT A</text>
<text x="459.0" y="216.8" font-size="10" textLength="115.7" lengthAdjust="spacingAndGlyphs" text-anchor="start" fill="#111" >TO MAIN CONTROL VALVE,</text>
<text x="459.0" y="226.7" font-size="10" textLength="103" lengthAdjust="spacingAndGlyphs" text-anchor="start" fill="#111" >HEEL SECTION, PORT B</text>
<polyline points="374.5,323.5 383.5,323.5 383.5,318.5 391.5,318.5" stroke="#000" stroke-width="1.1" fill="none" stroke-linejoin="round" />
<rect x="391.5" y="312.5" width="12.0" height="12.0" stroke="#000" stroke-width="1.2" fill="#fff" rx="0" />
<path d="M 395.50,322.12 L 395.50,314.98 L 393.35,317.27" fill="none" stroke="#0a0a1a" stroke-width="1.05" stroke-linejoin="miter" stroke-linecap="butt"/>
<text x="397.25" y="322.12" font-size="10.2" textLength="4.3" lengthAdjust="spacingAndGlyphs" text-anchor="start" fill="#0a0a1a" stroke="#0a0a1a" stroke-width="0.12">2</text>
<polyline points="403.5,318.5 452.5,318.5" stroke="#000" stroke-width="1.1" fill="none" stroke-linejoin="round" />
<polygon points="449.0,316.8 458.6,318.5 449.0,320.2" fill="#000"/>
<circle cx="423.4" cy="318.7" r="9" stroke="#111" stroke-width="0.95" fill="#fff"/>
<text x="417.77" y="322.32" font-size="10.2" textLength="3.75" lengthAdjust="spacingAndGlyphs" text-anchor="start" fill="#0a0a1a" stroke="#0a0a1a" stroke-width="0.12">2</text>
<text x="421.52" y="322.32" font-size="10.2" textLength="3.75" lengthAdjust="spacingAndGlyphs" text-anchor="start" fill="#0a0a1a" stroke="#0a0a1a" stroke-width="0.12">0</text>
<text x="425.27" y="322.32" font-size="10.2" textLength="3.75" lengthAdjust="spacingAndGlyphs" text-anchor="start" fill="#0a0a1a" stroke="#0a0a1a" stroke-width="0.12">4</text>
<polyline points="368.5,351.5 368.5,357.5 376.5,357.5" stroke="#000" stroke-width="1.1" fill="none" stroke-linejoin="round" />
<polyline points="378.5,357.5 390.5,357.5" stroke="#000" stroke-width="1.1" fill="none" stroke-linejoin="round" />
<rect x="390.5" y="351.5" width="13.0" height="12.0" stroke="#000" stroke-width="1.2" fill="#fff" rx="0" />
<path d="M 395.50,361.02 L 395.50,353.88 L 393.35,356.17" fill="none" stroke="#0a0a1a" stroke-width="1.05" stroke-linejoin="miter" stroke-linecap="butt"/>
<text x="397.05" y="361.02" font-size="10.2" textLength="4.3" lengthAdjust="spacingAndGlyphs" text-anchor="start" fill="#0a0a1a" stroke="#0a0a1a" stroke-width="0.12">2</text>
<polyline points="403.5,357.5 452.5,357.5" stroke="#000" stroke-width="1.1" fill="none" stroke-linejoin="round" />
<polygon points="449.0,355.8 458.6,357.5 449.0,359.2" fill="#000"/>
<circle cx="423.4" cy="357.3" r="9" stroke="#111" stroke-width="0.95" fill="#fff"/>
<text x="417.77" y="360.92" font-size="10.2" textLength="3.75" lengthAdjust="spacingAndGlyphs" text-anchor="start" fill="#0a0a1a" stroke="#0a0a1a" stroke-width="0.12">2</text>
<text x="421.52" y="360.92" font-size="10.2" textLength="3.75" lengthAdjust="spacingAndGlyphs" text-anchor="start" fill="#0a0a1a" stroke="#0a0a1a" stroke-width="0.12">0</text>
<text x="425.27" y="360.92" font-size="10.2" textLength="3.75" lengthAdjust="spacingAndGlyphs" text-anchor="start" fill="#0a0a1a" stroke="#0a0a1a" stroke-width="0.12">4</text>
<text x="242.6" y="360.7" font-size="10.2" font-weight="bold" textLength="88" lengthAdjust="spacingAndGlyphs" text-anchor="start" fill="#111" >STICK CYLINDER</text>
<text x="458.4" y="322.8" font-size="10" textLength="89.7" lengthAdjust="spacingAndGlyphs" text-anchor="start" fill="#111" >TO BOOM MANIFOLD</text>
<text x="458.4" y="332.7" font-size="10" textLength="72" lengthAdjust="spacingAndGlyphs" text-anchor="start" fill="#111" >VALVE, PORT D3</text>
<text x="458.4" y="358.0" font-size="10" textLength="89.7" lengthAdjust="spacingAndGlyphs" text-anchor="start" fill="#111" >TO BOOM MANIFOLD</text>
<text x="458.4" y="367.7" font-size="10" textLength="72" lengthAdjust="spacingAndGlyphs" text-anchor="start" fill="#111" >VALVE, PORT C3</text>
<line x1="338.5" y1="214.3" x2="362.9" y2="236.0" stroke="#222" stroke-width="0.75" />
<line x1="210.0" y1="283.9" x2="220.2" y2="266.7" stroke="#222" stroke-width="0.75" />
<line x1="244.0" y1="284.3" x2="264.6" y2="249.4" stroke="#222" stroke-width="0.75" />
<line x1="270.0" y1="284.6" x2="284.6" y2="262.9" stroke="#222" stroke-width="0.75" />
<line x1="211.0" y1="298.2" x2="223.5" y2="319.2" stroke="#222" stroke-width="0.75" />
<line x1="282.9" y1="298.4" x2="269.8" y2="324.4" stroke="#222" stroke-width="0.75" />
<line x1="305.4" y1="298.7" x2="291.7" y2="336.9" stroke="#222" stroke-width="0.75" />
<line x1="350.5" y1="382.8" x2="365.0" y2="351.7" stroke="#222" stroke-width="0.75" />
<circle cx="362.9" cy="236.0" r="1.7" fill="#112"/>
<circle cx="220.2" cy="266.7" r="1.7" fill="#112"/>
<circle cx="264.6" cy="249.4" r="1.7" fill="#112"/>
<circle cx="284.6" cy="262.9" r="1.7" fill="#112"/>
<circle cx="223.5" cy="319.2" r="1.7" fill="#112"/>
<circle cx="269.8" cy="324.4" r="1.7" fill="#112"/>
<circle cx="291.7" cy="336.9" r="1.7" fill="#112"/>
<circle cx="365.0" cy="351.7" r="1.7" fill="#112"/>
<circle cx="305" cy="209.4" r="7" stroke="#111" stroke-width="0.95" fill="#fff"/>
<text x="300.85" y="213.02" font-size="10.2" textLength="4.15" lengthAdjust="spacingAndGlyphs" text-anchor="start" fill="#0a0a1a" stroke="#0a0a1a" stroke-width="0.12">2</text>
<text x="305.0" y="213.02" font-size="10.2" textLength="4.15" lengthAdjust="spacingAndGlyphs" text-anchor="start" fill="#0a0a1a" stroke="#0a0a1a" stroke-width="0.12">7</text>
<circle cx="319.8" cy="209.4" r="7" stroke="#111" stroke-width="0.95" fill="#fff"/>
<text x="317.73" y="213.02" font-size="10.2" textLength="4.15" lengthAdjust="spacingAndGlyphs" text-anchor="start" fill="#0a0a1a" stroke="#0a0a1a" stroke-width="0.12">3</text>
<circle cx="333.8" cy="209.4" r="7" stroke="#111" stroke-width="0.95" fill="#fff"/>
<text x="329.65" y="213.02" font-size="10.2" textLength="4.15" lengthAdjust="spacingAndGlyphs" text-anchor="start" fill="#0a0a1a" stroke="#0a0a1a" stroke-width="0.12">2</text>
<text x="333.8" y="213.02" font-size="10.2" textLength="4.15" lengthAdjust="spacingAndGlyphs" text-anchor="start" fill="#0a0a1a" stroke="#0a0a1a" stroke-width="0.12">4</text>
<circle cx="192.7" cy="291.0" r="7.2" stroke="#111" stroke-width="0.95" fill="#fff"/>
<text x="190.62" y="294.62" font-size="10.2" textLength="4.15" lengthAdjust="spacingAndGlyphs" text-anchor="start" fill="#0a0a1a" stroke="#0a0a1a" stroke-width="0.12">3</text>
<circle cx="206.9" cy="291.0" r="7.2" stroke="#111" stroke-width="0.95" fill="#fff"/>
<text x="202.75" y="294.62" font-size="10.2" textLength="4.15" lengthAdjust="spacingAndGlyphs" text-anchor="start" fill="#0a0a1a" stroke="#0a0a1a" stroke-width="0.12">2</text>
<path d="M 209.50,294.62 L 209.50,287.48 L 207.43,289.77" fill="none" stroke="#0a0a1a" stroke-width="1.05" stroke-linejoin="miter" stroke-linecap="butt"/>
<circle cx="240.2" cy="291.0" r="7.2" stroke="#111" stroke-width="0.95" fill="#fff"/>
<path d="M 238.50,294.62 L 238.50,287.48 L 236.43,289.77" fill="none" stroke="#0a0a1a" stroke-width="1.05" stroke-linejoin="miter" stroke-linecap="butt"/>
<text x="240.2" y="294.62" font-size="10.2" textLength="4.15" lengthAdjust="spacingAndGlyphs" text-anchor="start" fill="#0a0a1a" stroke="#0a0a1a" stroke-width="0.12">3</text>
<circle cx="266.25" cy="291.0" r="7.2" stroke="#111" stroke-width="0.95" fill="#fff"/>
<text x="262.1" y="294.62" font-size="10.2" textLength="4.15" lengthAdjust="spacingAndGlyphs" text-anchor="start" fill="#0a0a1a" stroke="#0a0a1a" stroke-width="0.12">2</text>
<text x="266.25" y="294.62" font-size="10.2" textLength="4.15" lengthAdjust="spacingAndGlyphs" text-anchor="start" fill="#0a0a1a" stroke="#0a0a1a" stroke-width="0.12">8</text>
<circle cx="285.6" cy="291.0" r="7.2" stroke="#111" stroke-width="0.95" fill="#fff"/>
<path d="M 284.50,294.62 L 284.50,287.48 L 282.43,289.77" fill="none" stroke="#0a0a1a" stroke-width="1.05" stroke-linejoin="miter" stroke-linecap="butt"/>
<text x="285.6" y="294.62" font-size="10.2" textLength="4.15" lengthAdjust="spacingAndGlyphs" text-anchor="start" fill="#0a0a1a" stroke="#0a0a1a" stroke-width="0.12">8</text>
<circle cx="306.9" cy="291.0" r="7.2" stroke="#111" stroke-width="0.95" fill="#fff"/>
<path d="M 305.50,294.62 L 305.50,287.48 L 303.43,289.77" fill="none" stroke="#0a0a1a" stroke-width="1.05" stroke-linejoin="miter" stroke-linecap="butt"/>
<text x="306.9" y="294.62" font-size="10.2" textLength="4.15" lengthAdjust="spacingAndGlyphs" text-anchor="start" fill="#0a0a1a" stroke="#0a0a1a" stroke-width="0.12">5</text>
<circle cx="321.3" cy="389.8" r="7" stroke="#111" stroke-width="0.95" fill="#fff"/>
<path d="M 319.50,393.42 L 319.50,386.28 L 317.43,388.57" fill="none" stroke="#0a0a1a" stroke-width="1.05" stroke-linejoin="miter" stroke-linecap="butt"/>
<text x="321.3" y="393.42" font-size="10.2" textLength="4.15" lengthAdjust="spacingAndGlyphs" text-anchor="start" fill="#0a0a1a" stroke="#0a0a1a" stroke-width="0.12">6</text>
<circle cx="335.4" cy="389.8" r="7" stroke="#111" stroke-width="0.95" fill="#fff"/>
<path d="M 333.50,393.42 L 333.50,386.28 L 331.43,388.57" fill="none" stroke="#0a0a1a" stroke-width="1.05" stroke-linejoin="miter" stroke-linecap="butt"/>
<text x="335.4" y="393.42" font-size="10.2" textLength="4.15" lengthAdjust="spacingAndGlyphs" text-anchor="start" fill="#0a0a1a" stroke="#0a0a1a" stroke-width="0.12">7</text>
<circle cx="349.8" cy="389.8" r="7" stroke="#111" stroke-width="0.95" fill="#fff"/>
<text x="345.65" y="393.42" font-size="10.2" textLength="4.15" lengthAdjust="spacingAndGlyphs" text-anchor="start" fill="#0a0a1a" stroke="#0a0a1a" stroke-width="0.12">2</text>
<text x="349.8" y="393.42" font-size="10.2" textLength="4.15" lengthAdjust="spacingAndGlyphs" text-anchor="start" fill="#0a0a1a" stroke="#0a0a1a" stroke-width="0.12">5</text>
<path d="M 79.94,510.35 A 58.5,58.5 0 0 1 147.22,513.70 L 143.46,518.51 A 52.4,52.4 0 0 0 83.20,515.51 Z" fill="#fff" stroke="#000" stroke-width="1.7" stroke-linejoin="round"/>
<line x1="84.36" y1="508.5" x2="86.63" y2="512.84" stroke="#444" stroke-width="1.5" />
<line x1="88.64" y1="506.47" x2="90.55" y2="510.99" stroke="#444" stroke-width="1.5" />
<line x1="93.08" y1="504.81" x2="94.61" y2="509.46" stroke="#444" stroke-width="1.5" />
<line x1="97.63" y1="503.51" x2="98.78" y2="508.28" stroke="#444" stroke-width="1.5" />
<line x1="102.28" y1="502.59" x2="103.03" y2="507.43" stroke="#444" stroke-width="1.5" />
<line x1="106.98" y1="502.05" x2="107.34" y2="506.94" stroke="#444" stroke-width="1.5" />
<line x1="111.71" y1="501.9" x2="111.67" y2="506.8" stroke="#444" stroke-width="1.5" />
<line x1="116.44" y1="502.14" x2="116.0" y2="507.02" stroke="#444" stroke-width="1.5" />
<line x1="121.13" y1="502.76" x2="120.29" y2="507.59" stroke="#444" stroke-width="1.5" />
<line x1="125.76" y1="503.76" x2="124.53" y2="508.5" stroke="#444" stroke-width="1.5" />
<line x1="130.29" y1="505.14" x2="128.68" y2="509.76" stroke="#444" stroke-width="1.5" />
<line x1="134.69" y1="506.88" x2="132.71" y2="511.36" stroke="#444" stroke-width="1.5" />
<line x1="138.94" y1="508.98" x2="136.59" y2="513.28" stroke="#444" stroke-width="1.5" />
<line x1="143.0" y1="511.41" x2="140.31" y2="515.51" stroke="#444" stroke-width="1.5" />
<path d="M 86.14,515.15 A 51.199999999999996,51.199999999999996 0 0 1 138.33,516.38" fill="none" stroke="#222" stroke-width="1.5" stroke-dasharray="3,1.2"/>
<path d="M 85.3,518.4 C 82.6,521 82.8,528 86.5,530.8 C 88.5,532.2 90,532.3 92,532.3 L 111.5,532.3 C 116,532.5 119.5,534.6 125,539.2 L 145,555 C 148,557.5 149.2,559.5 149.6,562 L 163.3,680.5 L 152,707.6 L 150.4,708.6 L 133.2,750.5" stroke="#000" stroke-width="1.8" fill="none" stroke-linejoin="round" stroke-linecap="round" />
<path d="M 85.6,518.2 C 93,514.6 103,511.6 113.5,511.5 C 122,511.6 129,513.3 135.3,517.6 L 166.8,542.5 C 169,544.5 170.3,546.5 171,549 L 185.6,595.6" stroke="#000" stroke-width="1.8" fill="none" stroke-linejoin="round" stroke-linecap="round" />
<path d="M 185.6,595.6 L 187.8,601 L 190.1,609 L 190.2,615.8" stroke="#000" stroke-width="0.9" fill="none" stroke-linejoin="round" stroke-linecap="round" />
<path d="M 190.2,615.8 L 185.6,664.5 L 190.6,670.0" stroke="#000" stroke-width="1.8" fill="none" stroke-linejoin="round" stroke-linecap="round" />
<path d="M 196.3,684.3 L 172.3,700.2 L 165.3,712.3 L 163.5,714.2 L 164.4,715.6 L 137.2,748.6" stroke="#000" stroke-width="1.8" fill="none" stroke-linejoin="round" stroke-linecap="round" />
<path d="M 132.6,750.2 L 136.8,747.6" stroke="#000" stroke-width="2.6" fill="none" stroke-linejoin="round" stroke-linecap="round" />
<path d="M 183.8,667.0 C 181,680 178.5,690 173.6,699.5" stroke="#000" stroke-width="0.8" fill="none" stroke-linejoin="round" stroke-linecap="round" />
<path d="M 175.8,667.6 L 134.4,748.8" stroke="#000" stroke-width="0.8" fill="none" stroke-linejoin="round" stroke-linecap="round" />
<path d="M 177.6,668.4 L 136.3,749.2" stroke="#000" stroke-width="0.8" fill="none" stroke-linejoin="round" stroke-linecap="round" />
<circle cx="91.7" cy="523.9" r="3.8" fill="#fff" stroke="#000" stroke-width="1.0"/>
<circle cx="181.2" cy="612.7" r="4.4" fill="#fff" stroke="#000" stroke-width="1.0"/>
<path d="M 185.6,595.6 L 216.0,567.8" stroke="#000" stroke-width="1.8" fill="none" stroke-linejoin="round" stroke-linecap="round" />
<polyline points="219.66,565.31 300.56,487.0 401.05,412.89" stroke="#444" stroke-width="2.0" fill="none" stroke-linejoin="round" stroke-dasharray="0.7,0.7"/>
<polyline points="220.56,566.24 301.4,488.0 401.82,413.94" stroke="#222" stroke-width="0.9" fill="none" stroke-linejoin="round" />
<polyline points="218.2,563.8 299.2,485.4 399.8,411.2" stroke="#000" stroke-width="1.9" fill="none" stroke-linejoin="round" />
<rect x="-2.6" y="-2.2" width="5.2" height="4.4" fill="#111" transform="translate(216.3,565.6) rotate(-44)"/>
<rect x="-2.6" y="-2.2" width="5.2" height="4.4" fill="#111" transform="translate(402.2,410.4) rotate(-37)"/>
<path d="M 404.5,410.0 L 461.6,394.2 A 10.0,10.0 0 0 1 469.9,411.7 L 437.7,433.1 C 431,437.5 428,440 427,443.5 C 426.3,447 428.5,451 429.6,454.5 L 430.4,460.8" stroke="#000" stroke-width="1.8" fill="none" stroke-linejoin="round" stroke-linecap="round" />
<circle cx="463.3" cy="404.0" r="8.1" fill="none" stroke="#222" stroke-width="0.9"/>
<circle cx="463.3" cy="404.0" r="3.9" fill="none" stroke="#222" stroke-width="0.9"/>
<path d="M 190.2,615.8 L 343.0,507.1 C 346,507.6 347.6,510 349,511.6 C 351,513.6 354,514.6 357.4,514.3 C 359.5,514 361,513.6 362.3,512.9 L 423.8,465.9" stroke="#000" stroke-width="1.8" fill="none" stroke-linejoin="round" stroke-linecap="round" />
<line x1="336.8" y1="508.3" x2="427.2" y2="441.4" stroke="#000" stroke-width="0.8" />
<g transform="translate(189.4,678.3) rotate(-45.7)">
<line x1="7" y1="-4.3" x2="108" y2="-4.3" stroke="#000" stroke-width="1.7" />
<line x1="7" y1="4.3" x2="108" y2="4.3" stroke="#000" stroke-width="1.7" />
<polygon points="107.6,-5.8 114.5,-5.8 114.5,6.0 107.6,6.0" stroke="#000" stroke-width="1.4" fill="#fff" stroke-linejoin="round" />
<rect x="114.2" y="-8.5" width="18.6" height="17.1" stroke="#000" stroke-width="1.8" fill="#fff" rx="2.2" />
<line x1="133.5" y1="-5.9" x2="230" y2="-5.9" stroke="#000" stroke-width="1.7" />
<line x1="133.5" y1="5.9" x2="236.5" y2="5.9" stroke="#000" stroke-width="1.7" />
<line x1="117" y1="-2.4" x2="232" y2="-2.4" stroke="#111" stroke-width="0.7" />
<line x1="117" y1="-0.6" x2="232" y2="-0.6" stroke="#111" stroke-width="0.7" />
<circle cx="0" cy="0" r="7.0" fill="#fff" stroke="#333" stroke-width="0.9"/>
<circle cx="0" cy="0" r="4.1" fill="#fff" stroke="#000" stroke-width="1.3"/>
<circle cx="117" cy="-1.2" r="2.4" fill="none" stroke="#333" stroke-width="0.8"/>
<rect x="224.5" y="-3.4" width="7.5" height="6.6" stroke="#222" stroke-width="0.8" fill="#fff" rx="0" />
<line x1="226.0" y1="-3.2" x2="227.4" y2="3.0" stroke="#333" stroke-width="0.6" />
<line x1="227.8" y1="-3.2" x2="229.20000000000002" y2="3.0" stroke="#333" stroke-width="0.6" />
<line x1="229.6" y1="-3.2" x2="231.0" y2="3.0" stroke="#333" stroke-width="0.6" />
</g>
<circle cx="357" cy="506.7" r="6.4" fill="#fff" stroke="#555" stroke-width="1.0"/>
<circle cx="357" cy="506.6" r="3.0" fill="#fff" stroke="#111" stroke-width="0.9"/>
<path d="M 190.6,670.0 A 8.6,8.6 0 0 1 196.3,684.3" stroke="#000" stroke-width="1.8" fill="none" stroke-linejoin="round" stroke-linecap="round" />
<g transform="translate(422.6,457.9) rotate(51)">
<line x1="6.2" y1="-3.5" x2="49" y2="-3.5" stroke="#000" stroke-width="1.7" />
<line x1="6.2" y1="3.5" x2="49" y2="3.5" stroke="#000" stroke-width="1.7" />
<rect x="48.6" y="-5.6" width="8.2" height="11.2" stroke="#000" stroke-width="1.5" fill="#fff" rx="1" />
<rect x="56.5" y="-8.6" width="16" height="16.0" stroke="#000" stroke-width="1.8" fill="#fff" rx="2.2" />
<line x1="72.5" y1="-6.0" x2="142.3" y2="-6.0" stroke="#000" stroke-width="1.7" />
<line x1="72.5" y1="6.0" x2="143.4" y2="6.0" stroke="#000" stroke-width="1.7" />
<line x1="58" y1="-1.6" x2="142.6" y2="-1.6" stroke="#111" stroke-width="0.7" />
<line x1="58" y1="0.0" x2="142.8" y2="0.0" stroke="#111" stroke-width="0.7" />
<polyline points="141.8,-12.7 142.3,-3.5 145.2,-1.8 142.2,0.6 143.6,2.6 144.2,15.3" stroke="#000" stroke-width="0.8" fill="none" stroke-linejoin="round" />
<circle cx="0" cy="0" r="6.2" fill="#fff" stroke="#111" stroke-width="1.0"/>
<circle cx="0" cy="0" r="3.8" fill="#fff" stroke="#111" stroke-width="0.9"/>
<circle cx="62" cy="1.5" r="2.2" fill="none" stroke="#333" stroke-width="0.8"/>
</g>
<circle cx="94.4" cy="451.3" r="7.4" stroke="#111" stroke-width="0.95" fill="#fff"/>
<text x="90.25" y="454.92" font-size="10.2" textLength="4.15" lengthAdjust="spacingAndGlyphs" text-anchor="start" fill="#0a0a1a" stroke="#0a0a1a" stroke-width="0.12">3</text>
<text x="94.4" y="454.92" font-size="10.2" textLength="4.15" lengthAdjust="spacingAndGlyphs" text-anchor="start" fill="#0a0a1a" stroke="#0a0a1a" stroke-width="0.12">8</text>
<line x1="95.2" y1="458.7" x2="101.4" y2="501.4" stroke="#222" stroke-width="0.75" />
<circle cx="101.4" cy="501.6" r="1.7" fill="#112"/>
<circle cx="362.9" cy="568.1" r="7" stroke="#111" stroke-width="0.95" fill="#fff"/>
<text x="358.75" y="571.72" font-size="10.2" textLength="4.15" lengthAdjust="spacingAndGlyphs" text-anchor="start" fill="#0a0a1a" stroke="#0a0a1a" stroke-width="0.12">2</text>
<text x="362.9" y="571.72" font-size="10.2" textLength="4.15" lengthAdjust="spacingAndGlyphs" text-anchor="start" fill="#0a0a1a" stroke="#0a0a1a" stroke-width="0.12">7</text>
<circle cx="377.6" cy="568.1" r="7" stroke="#111" stroke-width="0.95" fill="#fff"/>
<text x="375.53" y="571.72" font-size="10.2" textLength="4.15" lengthAdjust="spacingAndGlyphs" text-anchor="start" fill="#0a0a1a" stroke="#0a0a1a" stroke-width="0.12">3</text>
<circle cx="392.5" cy="568.1" r="7" stroke="#111" stroke-width="0.95" fill="#fff"/>
<text x="388.35" y="571.72" font-size="10.2" textLength="4.15" lengthAdjust="spacingAndGlyphs" text-anchor="start" fill="#0a0a1a" stroke="#0a0a1a" stroke-width="0.12">2</text>
<text x="392.5" y="571.72" font-size="10.2" textLength="4.15" lengthAdjust="spacingAndGlyphs" text-anchor="start" fill="#0a0a1a" stroke="#0a0a1a" stroke-width="0.12">4</text>
<line x1="361.2" y1="561.2" x2="345.6" y2="519.7" stroke="#222" stroke-width="0.75" />
<circle cx="345.6" cy="519.7" r="1.7" fill="#112"/>
<circle cx="417.7" cy="568.5" r="7" stroke="#111" stroke-width="0.95" fill="#fff"/>
<text x="415.62" y="572.12" font-size="10.2" textLength="4.15" lengthAdjust="spacingAndGlyphs" text-anchor="start" fill="#0a0a1a" stroke="#0a0a1a" stroke-width="0.12">3</text>
<circle cx="432.5" cy="568.5" r="7" stroke="#111" stroke-width="0.95" fill="#fff"/>
<text x="428.35" y="572.12" font-size="10.2" textLength="4.15" lengthAdjust="spacingAndGlyphs" text-anchor="start" fill="#0a0a1a" stroke="#0a0a1a" stroke-width="0.12">2</text>
<path d="M 435.50,572.12 L 435.50,564.98 L 433.43,567.27" fill="none" stroke="#0a0a1a" stroke-width="1.05" stroke-linejoin="miter" stroke-linecap="butt"/>
<circle cx="454.6" cy="568.5" r="7" stroke="#111" stroke-width="0.95" fill="#fff"/>
<path d="M 453.50,572.12 L 453.50,564.98 L 451.43,567.27" fill="none" stroke="#0a0a1a" stroke-width="1.05" stroke-linejoin="miter" stroke-linecap="butt"/>
<text x="454.6" y="572.12" font-size="10.2" textLength="4.15" lengthAdjust="spacingAndGlyphs" text-anchor="start" fill="#0a0a1a" stroke="#0a0a1a" stroke-width="0.12">8</text>
<circle cx="476.3" cy="568.5" r="7" stroke="#111" stroke-width="0.95" fill="#fff"/>
<path d="M 474.50,572.12 L 474.50,564.98 L 472.43,567.27" fill="none" stroke="#0a0a1a" stroke-width="1.05" stroke-linejoin="miter" stroke-linecap="butt"/>
<text x="476.3" y="572.12" font-size="10.2" textLength="4.15" lengthAdjust="spacingAndGlyphs" text-anchor="start" fill="#0a0a1a" stroke="#0a0a1a" stroke-width="0.12">5</text>
<line x1="435.0" y1="561.9" x2="461.0" y2="510.8" stroke="#222" stroke-width="0.75" />
<circle cx="461.0" cy="510.8" r="1.7" fill="#112"/>
<line x1="457.6" y1="562.0" x2="476.9" y2="527.5" stroke="#222" stroke-width="0.75" />
<circle cx="476.9" cy="527.5" r="1.7" fill="#112"/>
<line x1="479.0" y1="562.0" x2="487.9" y2="550.6" stroke="#222" stroke-width="0.75" />
<circle cx="487.9" cy="550.6" r="1.7" fill="#112"/>
<circle cx="292.3" cy="642.9" r="7" stroke="#111" stroke-width="0.95" fill="#fff"/>
<text x="290.23" y="646.52" font-size="10.2" textLength="4.15" lengthAdjust="spacingAndGlyphs" text-anchor="start" fill="#0a0a1a" stroke="#0a0a1a" stroke-width="0.12">3</text>
<circle cx="306.7" cy="642.9" r="7" stroke="#111" stroke-width="0.95" fill="#fff"/>
<text x="302.55" y="646.52" font-size="10.2" textLength="4.15" lengthAdjust="spacingAndGlyphs" text-anchor="start" fill="#0a0a1a" stroke="#0a0a1a" stroke-width="0.12">2</text>
<path d="M 309.50,646.52 L 309.50,639.38 L 307.43,641.67" fill="none" stroke="#0a0a1a" stroke-width="1.05" stroke-linejoin="miter" stroke-linecap="butt"/>
<line x1="290.0" y1="636.1" x2="271.2" y2="595.8" stroke="#222" stroke-width="0.75" />
<circle cx="271.2" cy="595.8" r="1.7" fill="#112"/>
<text x="248.0" y="464.7" font-size="10.5" font-weight="bold" textLength="67.3" lengthAdjust="spacingAndGlyphs" text-anchor="start" fill="#111" >STICK BOOM</text>
<text x="301.3" y="593.7" font-size="10.2" textLength="28.1" lengthAdjust="spacingAndGlyphs" text-anchor="start" fill="#111" stroke="#111" stroke-width="0.25">HEEL</text>
<text x="289.0" y="606.9" font-size="10.2" textLength="53.3" lengthAdjust="spacingAndGlyphs" text-anchor="start" fill="#111" stroke="#111" stroke-width="0.25">CYLINDER</text>
<text x="495.6" y="497.7" font-size="10.2" textLength="31.3" lengthAdjust="spacingAndGlyphs" text-anchor="start" fill="#111" stroke="#111" stroke-width="0.25">STICK</text>
<text x="484.7" y="510.7" font-size="10.2" textLength="53.6" lengthAdjust="spacingAndGlyphs" text-anchor="start" fill="#111" stroke="#111" stroke-width="0.25">CYLINDER</text>
</svg>
</body></html>
